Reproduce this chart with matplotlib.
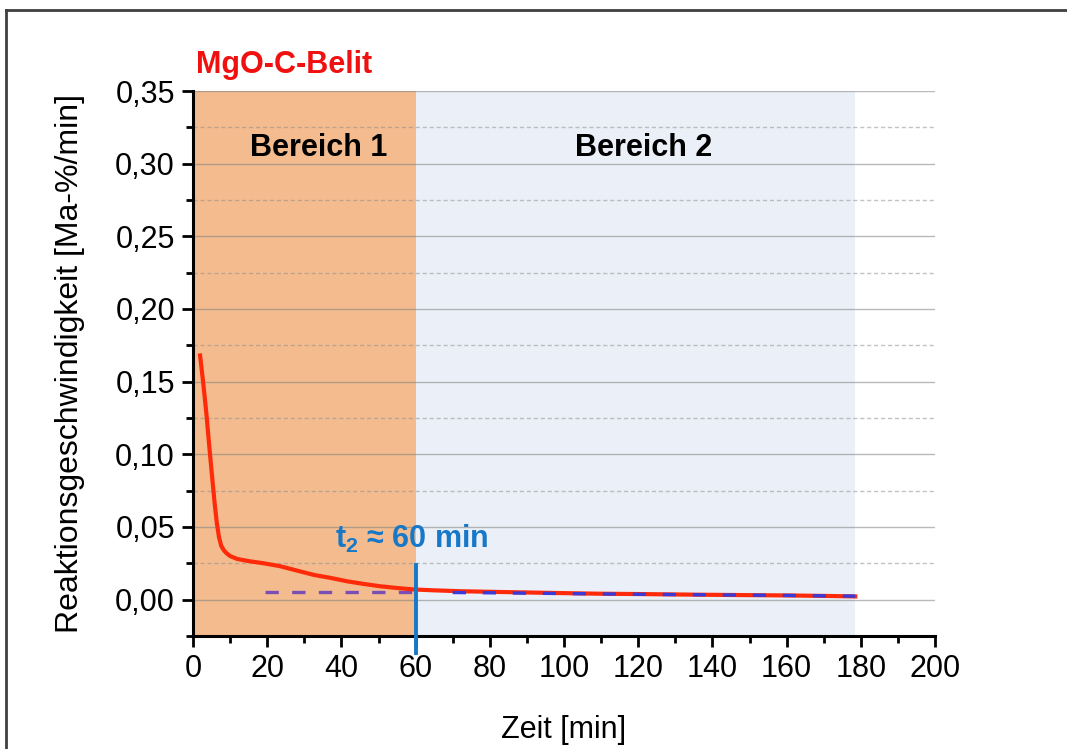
import numpy as np
import matplotlib.pyplot as plt
from matplotlib.lines import Line2D
from matplotlib.ticker import MultipleLocator, FuncFormatter

plt.rcParams['font.family'] = ['Liberation Sans', 'DejaVu Sans']
plt.rcParams['mathtext.fontset'] = 'custom'
plt.rcParams['mathtext.bf'] = 'Liberation Sans:bold'
plt.rcParams['mathtext.rm'] = 'Liberation Sans'

# Messkurve
zeit = [1.9, 2.8, 3.6, 4.4, 5.2, 5.8, 6.4, 7.0, 7.6, 8.3, 9.0, 10.0, 11.9, 15.0,
        19.1, 23.5, 28.0, 32.6, 37.0, 41.6, 46.0, 50.5, 55.0, 59.6, 65.0, 72.0,
        82.0, 95.0, 109.0, 122.0, 136.0, 150.0, 160.0, 172.0, 178.5]
rate = [0.168, 0.148, 0.128, 0.105, 0.083, 0.067, 0.053, 0.043, 0.037, 0.034,
        0.032, 0.030, 0.028, 0.0265, 0.025, 0.023, 0.020, 0.017, 0.015, 0.0126,
        0.0108, 0.0092, 0.0080, 0.0070, 0.0064, 0.0058, 0.0053, 0.0047, 0.0041,
        0.0038, 0.0034, 0.0031, 0.0029, 0.0025, 0.0022]

# Fit-Linie (gestrichelt)
fit_x = [19.5, 60.0, 70.0, 80.0, 100.0, 120.0, 140.0, 160.0, 178.5]
fit_y = [0.0050, 0.0050, 0.0049, 0.0047, 0.0042, 0.0037, 0.0033, 0.0029, 0.0024]

t2 = 60
bereich_ende = 178.5

fig = plt.figure(figsize=(10.67, 7.49), dpi=100)
ax = fig.add_axes([0.1809, 0.1509, 0.8763 - 0.1809, 0.8785 - 0.1509])

ax.axvspan(0, t2, color='#F4BC8E', zorder=0.2, lw=0)
ax.axvspan(t2, bereich_ende, color='#EBF0F8', zorder=0.2, lw=0)

ax.set_xlim(0, 200)
ax.set_ylim(-0.025, 0.35)
ax.xaxis.set_major_locator(MultipleLocator(20))
ax.xaxis.set_minor_locator(MultipleLocator(10))
ax.yaxis.set_major_locator(MultipleLocator(0.05))
ax.yaxis.set_minor_locator(MultipleLocator(0.025))
ax.yaxis.set_major_formatter(FuncFormatter(lambda v, p: f'{v:.2f}'.replace('.', ',')))

ax.set_axisbelow(True)
ax.grid(which='major', axis='y', color='#808080', alpha=0.55, lw=1)
ax.grid(which='minor', axis='y', color='#909090', alpha=0.55, lw=1, ls=(0, (3, 2)))

for s in ['top', 'right']:
    ax.spines[s].set_visible(False)
for s in ['left', 'bottom']:
    ax.spines[s].set_linewidth(2.2)
ax.tick_params(which='major', direction='out', length=8, width=2, labelsize=22, pad=5)
ax.tick_params(which='minor', direction='out', length=5, width=2)

fx = np.array(fit_x)
fy = np.array(fit_y)
m = fx <= t2
ax.plot(zeit, rate, color='#FF2A0A', lw=3, zorder=3)
ax.plot(fx[m], fy[m], color='#7A4FB5', lw=2.4, ls=(0, (4, 4)), zorder=2)
ax.plot(fx[~m], fy[~m], color='#3A3AD8', lw=2.4, ls=(0, (4, 5)), zorder=3.5)

ax.plot([t2, t2], [-0.037, 0.024], color='#1878C8', lw=2.8, zorder=4, clip_on=False)

ax.text(59, 0.042, r'$\mathbf{t_2}$ ≈ 60 min', color='#1878C8', fontsize=22,
        fontweight='bold', ha='center', va='center', zorder=5)
ax.text(34, 0.311, 'Bereich 1', fontsize=22, fontweight='bold', ha='center', va='center')
ax.text(121.4, 0.311, 'Bereich 2', fontsize=22, fontweight='bold', ha='center', va='center')
ax.text(0.8, 0.368, 'MgO-C-Belit', color='#F01010', fontsize=22, fontweight='bold',
        ha='left', va='center', clip_on=False)

ax.set_xlabel('Zeit [min]', fontsize=22, labelpad=22)
ax.set_ylabel('Reaktionsgeschwindigkeit [Ma-%/min]', fontsize=23, labelpad=22)

# Rahmen
fig.add_artist(Line2D([0.0056, 1.0], [0.9866, 0.9866], color='#404040', lw=2))
fig.add_artist(Line2D([0.0056, 0.0056], [0.0, 0.9866], color='#404040', lw=2))

fig.savefig('out.png', dpi=100)
